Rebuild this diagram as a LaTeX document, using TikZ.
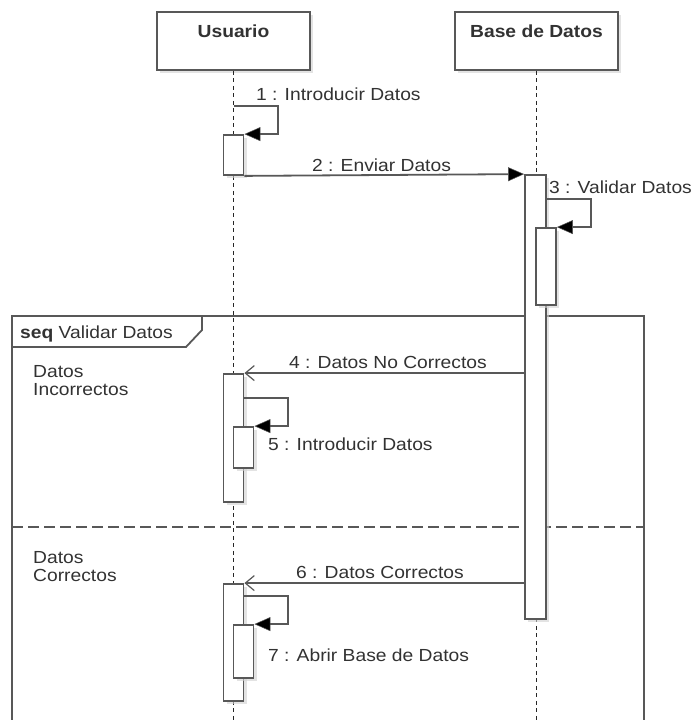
\documentclass[tikz,border=0pt]{standalone}
\usepackage{fontspec}
\setmainfont{Liberation Sans}[FakeStretch=1.1]
\usetikzlibrary{arrows.meta,shadows}
\definecolor{lc}{RGB}{88,88,88}
\definecolor{tc}{RGB}{50,50,50}
\begin{document}
\begin{tikzpicture}[x=1pt,y=-1pt,
  every node/.style={font=\fontsize{17.5}{18}\selectfont, text=tc},
  shad/.style={drop shadow={shadow xshift=3pt, shadow yshift=-3pt, fill=black!18, opacity=0.6}},
  head/.style={draw=lc, line width=1.8pt, fill=white, inner sep=0pt, minimum height=58pt, shad},
  headtxt/.style={font=\fontsize{17.5}{18}\selectfont\bfseries, inner sep=0pt, anchor=base},
  act/.style={draw=lc, line width=1.8pt, fill=white, inner sep=0pt, minimum width=20pt, shad},
  life/.style={black!85, line width=1.2pt, dash pattern=on 4pt off 3.5pt},
  frame/.style={draw=lc, line width=1.8pt},
  sep/.style={lc, line width=1.8pt, dash pattern=on 11pt off 5pt},
  sync/.style={lc, line width=1.8pt, -{Triangle[length=16pt,width=14pt,fill=black,line width=0.5pt]}},
  reply/.style={lc, line width=1.8pt, -{Straight Barb[length=9pt,width=15pt,line width=1.2pt]}},
  lbl/.style={inner sep=0pt, anchor=base west},
  cond/.style={inner sep=0pt, anchor=north west, align=left},
]
\useasboundingbox (0,0) rectangle (692,720);
\clip (0,0) rectangle (692,720);

% frame of the combined fragment
\draw[frame] (12,730) -- (12,316) -- (644,316) -- (644,730);
\draw[frame] (12,347) -- (186,347) -- (202,330) -- (202,316);
\draw[sep] (12,527) -- (644,527);
\node[lbl] (seq) at (20,338) {\textbf{seq} Validar Datos};
\node[cond] (c1) at (33,365) {Datos\\Incorrectos};
\node[cond] (c2) at (33,551) {Datos\\Correctos};

% lifelines heads
\node[head, minimum width=153pt] (u) at (233.5,41) {};
\node[headtxt] (ut) at (233.5,37) {Usuario};
\node[head, minimum width=163pt] (b) at (536.5,41) {};
\node[headtxt] (bt) at (536.5,37) {Base de Datos};
\coordinate (uEnd) at (233.5,730);
\coordinate (bEnd) at (536.5,730);
\draw[life] (u.south) -- (uEnd);
\draw[life] (b.south) -- (bEnd);

% activation boxes
\node[act, minimum height=40pt] (a1) at (233.5,155) {};
\node[act, minimum width=21pt, minimum height=444pt] (aB) at (535.5,397) {};
\node[act, minimum height=77pt] (aB2) at (546,266.5) {};
\node[act, minimum height=128pt] (a2) at (233.5,438) {};
\node[act, minimum height=41pt] (a2n) at (243.5,447.5) {};
\node[act, minimum height=117pt] (a3) at (233.5,642.5) {};
\node[act, minimum height=53pt] (a3n) at (243.5,651.5) {};

% messages
\coordinate (m1s) at (233.5,106);
\draw[sync] (m1s) -- (278,106) |- (a1.north east);
\node[lbl] (l1) at (256,100) {1 : Introducir Datos};

\draw[sync] (a1.south east) -- (aB.north west);
\node[lbl] (l2) at (312,171) {2 : Enviar Datos};

\draw[sync] (aB.east |- 0,199) -- (591,199) |- (aB2.north east);
\node[lbl] (l3) at (549,193) {3 : Validar Datos};

\draw[reply] (aB.west |- a2.north) -- (a2.north east);
\node[lbl] (l4) at (289,368) {4 : Datos No Correctos};

\draw[sync] (a2.east |- 0,398) -- (288,398) |- (a2n.north east);
\node[lbl] (l5) at (268,450) {5 : Introducir Datos};

\draw[reply] (aB.west |- a3.north) -- (a3.north east);
\node[lbl] (l6) at (296,578) {6 : Datos Correctos};

\draw[sync] (a3.east |- 0,596) -- (288,596) |- (a3n.north east);
\node[lbl] (l7) at (268,661) {7 : Abrir Base de Datos};
\end{tikzpicture}
\end{document}
